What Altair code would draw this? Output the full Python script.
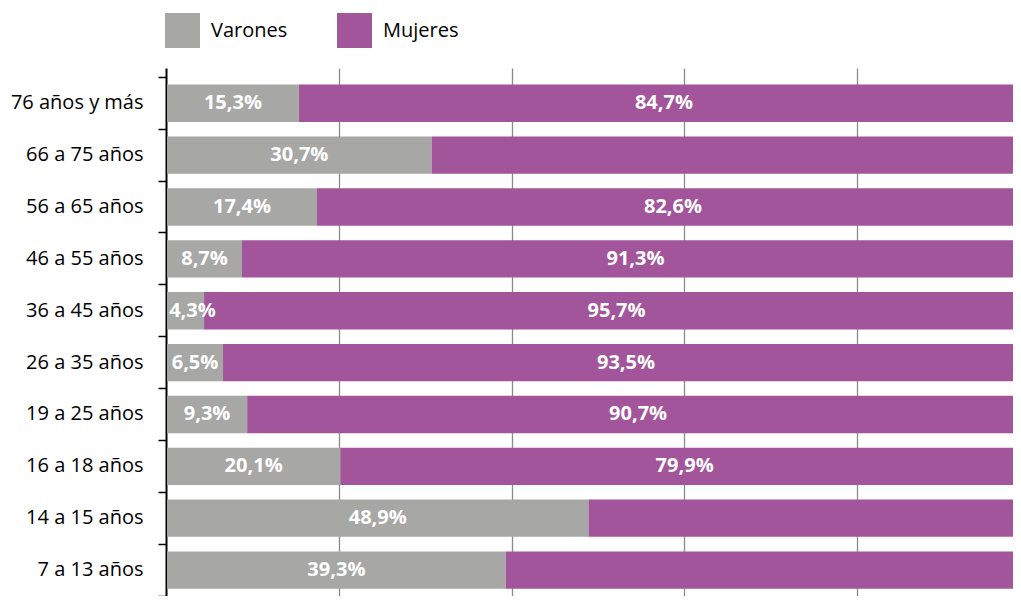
import altair as alt
import pandas as pd

categorias = ["76 años y más", "66 a 75 años", "56 a 65 años", "46 a 55 años",
              "36 a 45 años", "26 a 35 años", "19 a 25 años", "16 a 18 años",
              "14 a 15 años", "7 a 13 años"]
varones = [15.3, 30.7, 17.4, 8.7, 4.3, 6.5, 9.3, 20.1, 48.9, 39.3]
mujeres = [84.7, 69.3, 82.6, 91.3, 95.7, 93.5, 90.7, 79.9, 51.1, 60.7]
etiqueta_mujeres = [True, False, True, True, True, True, True, True, False, False]
series = ["Varones", "Mujeres"]
colores = ["#a7a7a6", "#a2559b"]
grid_vals = [20, 40, 60, 80]

rows = []
for i, c in enumerate(categorias):
    rows.append({"cat": c, "sexo": "Varones", "ord": 0, "valor": varones[i], "show": True})
    rows.append({"cat": c, "sexo": "Mujeres", "ord": 1, "valor": mujeres[i], "show": etiqueta_mujeres[i]})
df = pd.DataFrame(rows)

FONT = "Open Sans"
WIDTH = 846
XMAX = WIDTH / 8.62

yscale = alt.Scale(domain=categorias, paddingInner=0, paddingOuter=0.09, align=1)
xscale = alt.Scale(domain=[0, XMAX], nice=False, zero=True)

base = alt.Chart(df)

bars = base.mark_bar(height={"band": 0.72}, clip=True).encode(
    y=alt.Y("cat:N", scale=yscale, sort=categorias,
            axis=alt.Axis(title=None, bandPosition=1, tickExtra=True, tickSize=8,
                          tickColor="black", tickWidth=1.5, domainColor="black",
                          domainWidth=2, labelFont=FONT, labelFontSize=20,
                          labelColor="black", labelPadding=15, grid=False,
                          offset=1, zindex=0)),
    x=alt.X("valor:Q", stack="zero", scale=xscale,
            axis=alt.Axis(title=None, values=grid_vals, labels=False, ticks=False,
                          domain=False, grid=True, gridColor="#8a8a8a", gridWidth=1.3,
                          zindex=0)),
    color=alt.Color("sexo:N", scale=alt.Scale(domain=series, range=colores),
                    legend=alt.Legend(title=None, orient="none", legendX=-2, legendY=-55,
                                      direction="horizontal", symbolType="square",
                                      symbolSize=1225, symbolStrokeWidth=0,
                                      symbolOpacity=1, labelFont=FONT, labelFontSize=20,
                                      labelColor="black", labelOffset=11,
                                      columnPadding=49)),
    order=alt.Order("ord:Q"),
)

texts = base.transform_stack(
    stack="valor", groupby=["cat"], as_=["v0", "v1"], sort=[alt.SortField("ord")]
).transform_calculate(
    mid="max((datum.v0 + datum.v1) / 2, 2.95)",
    lbl="replace(format(datum.valor, '.1f'), '.', ',') + '%'"
).transform_filter(
    "datum.show"
).mark_text(font=FONT, fontSize=20, fontWeight="bold", color="white",
            align="center", baseline="middle").encode(
    y=alt.Y("cat:N", scale=yscale, sort=categorias),
    x=alt.X("mid:Q", scale=xscale),
    text="lbl:N",
)

chart = alt.layer(bars, texts).properties(
    width=WIDTH, height=528,
    autosize=alt.AutoSizeParams(type="none"),
    padding={"left": 159, "top": 60, "right": 0, "bottom": 0},
).configure_view(stroke=None)

chart.save("out.html", embed_options={"renderer": "svg", "actions": False})
